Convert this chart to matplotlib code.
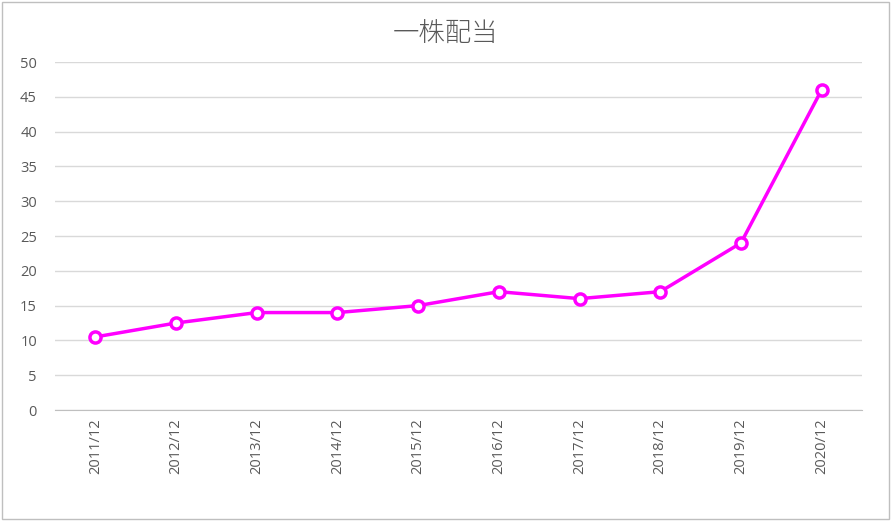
import matplotlib.pyplot as plt
from matplotlib.patches import Rectangle

plt.rcParams['font.family'] = ['Open Sans', 'Noto Sans CJK JP', 'DejaVu Sans']

# -------------------------
# DATA
# -------------------------
periods = ['2011/12', '2012/12', '2013/12', '2014/12', '2015/12',
           '2016/12', '2017/12', '2018/12', '2019/12', '2020/12']
dividend = [10.5, 12.5, 14, 14, 15, 17, 16, 17, 24, 46]
y_ticks = list(range(0, 55, 5))

# -------------------------
# PLOT
# -------------------------
fig = plt.figure(figsize=(8.91, 5.21), dpi=100)
ax = fig.add_axes([55 / 891, 1 - 410 / 521, 807 / 891, 348 / 521])

x = list(range(len(periods)))
ax.plot(x, dividend, color='#ff00ff', linewidth=2.5, marker='o',
        markersize=8, markerfacecolor='white', markeredgecolor='#ff00ff',
        markeredgewidth=2.5, zorder=3)

ax.set_xlim(-0.5, len(periods) - 0.5)
ax.set_ylim(0, 50)
ax.set_yticks(y_ticks)
ax.set_xticks(x)
ax.set_xticklabels(periods, rotation=90)
ax.tick_params(axis='both', length=0, labelsize=10.5, colors='#595959')
ax.tick_params(axis='y', pad=13)
ax.tick_params(axis='x', pad=6)
ax.grid(axis='y', color='#d9d9d9', linewidth=1)
ax.set_axisbelow(True)
for s in ['top', 'right', 'left']:
    ax.spines[s].set_visible(False)
ax.spines['bottom'].set_color('#bfbfbf')

fig.text(0.5, 1 - 34 / 521, '一株配当', ha='center', va='center',
         fontsize=19, color='#595959', fontweight='light',
         family=['Noto Sans CJK JP', 'DejaVu Sans'])

# outer border
fig.patches.append(Rectangle((2 / 891, 2 / 521), 887 / 891, 517 / 521,
                             transform=fig.transFigure, fill=False,
                             edgecolor='#bfbfbf', linewidth=1))

fig.savefig('out.png', dpi=100)
